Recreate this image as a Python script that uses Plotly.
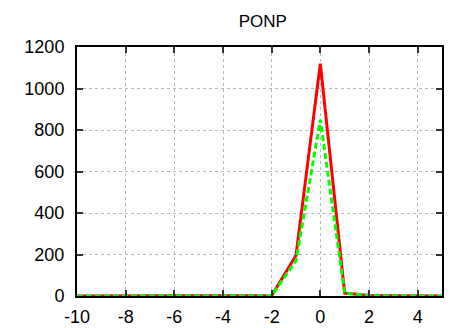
import plotly.graph_objects as go

x_vals = [-10, -9, -8, -7, -6, -5, -4, -3, -2, -1, 0, 1, 2, 3, 4, 5]
red_vals = [0, 0, 0, 0, 0, 0, 0, 0, 2, 195, 1120, 14, 3, 1, 0, 0]
green_vals = [0, 0, 0, 0, 0, 0, 0, 0, 2, 170, 850, 14, 3, 1, 0, 0]
x_ticks = [-10, -8, -6, -4, -2, 0, 2, 4]
x_tick_labels = ["-10", "-8", "-6", "-4", "-2", "0", "2", "4"]
y_ticks = [0, 200, 400, 600, 800, 1000, 1200]
y_tick_labels = ["0", "200", "400", "600", "800", "1000", "1200"]

FONT = "Liberation Sans, Arial, Helvetica"

fig = go.Figure()
fig.add_trace(go.Scatter(x=x_vals, y=red_vals, mode="lines",
                         line=dict(color="#ff0000", width=3), showlegend=False))
fig.add_trace(go.Scatter(x=x_vals, y=green_vals, mode="lines",
                         line=dict(color="#00ff00", width=3, dash="6px,3px"), showlegend=False))

axis_common = dict(showline=True, linecolor="black", linewidth=2, mirror="ticks",
                   ticks="inside", ticklen=6, tickwidth=2, tickcolor="#333",
                   showgrid=True, gridcolor="#b8b8b8", griddash="dot", gridwidth=1,
                   zeroline=False, automargin=False,
                   tickfont=dict(family=FONT, size=18, color="black"))

fig.update_xaxes(range=[-10, 5], tickvals=x_ticks, ticktext=x_tick_labels,
                 ticklabelstandoff=3, **axis_common)
fig.update_yaxes(range=[0, 1200], tickvals=y_ticks, ticktext=y_tick_labels,
                 ticklabelstandoff=7, **axis_common)

# the page body has an 8px margin, so the figure is sized to fit the window after it
fig.update_layout(
    width=459, height=320,
    margin=dict(l=69, r=25, t=39, b=32, autoexpand=False),
    paper_bgcolor="white", plot_bgcolor="white",
    title=dict(text="PONP", x=0.555, xanchor="center", y=0.96, yanchor="middle",
               automargin=False,
               font=dict(family=FONT, size=17, color="black")),
)
fig.write_html("out.html")
